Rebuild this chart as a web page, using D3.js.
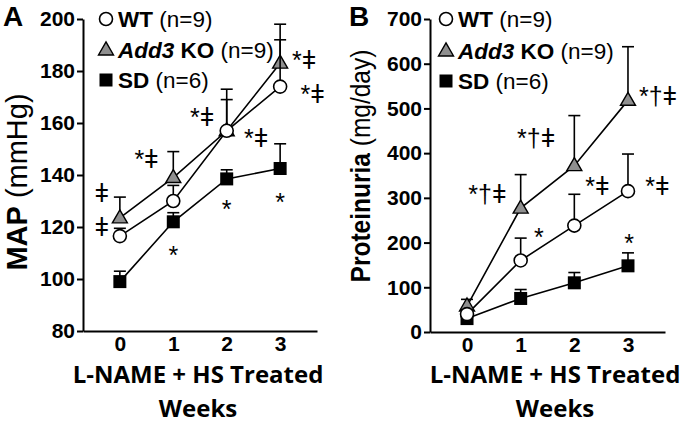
<!DOCTYPE html>
<html><head><meta charset="utf-8">
<script src="https://cdn.jsdelivr.net/npm/d3@7"></script>
<style>body{margin:0;background:#fff}svg{display:block}</style>
</head><body>
<svg id="c" width="690" height="423"></svg>
<script>
// ---- data ----
const weeks = [0, 1, 2, 3];
const series = ["SD", "KO", "WT"];
// Panel A: MAP (mmHg)
const mapWT = [116.5, 130, 157, 174];
const mapWTErr = [119.5, 136, 169, 192];
const mapKO = [123.5, 139, 157, 183];
const mapKOErr = [131.5, 149, 173, 198];
const mapSD = [99, 122, 138.5, 142.5];
const mapSDErr = [103, 125.5, 142, 152];
const mapTicks = [80, 100, 120, 140, 160, 180, 200];
// Panel B: Proteinuria (mg/day)
const proWT = [40, 160, 238, 315];
const proWTErr = [50, 210, 308, 398];
const proKO = [58, 277, 372, 518];
const proKOErr = [73, 352, 484, 638];
const proSD = [30, 75, 110, 148];
const proSDErr = [38, 95, 133, 177];
const proTicks = [0, 100, 200, 300, 400, 500, 600, 700];
// significance annotations: [week, value, text]
const mapNotes = [
  [-0.34, 132.7, "ǂ"], [-0.34, 119.6, "ǂ"],
  [0.5, 145.8, "*ǂ"], [1.54, 162, "*ǂ"], [2.55, 153.8, "*ǂ"],
  [3.45, 183.7, "*ǂ"], [3.61, 170.8, "*ǂ"],
  [1.0, 111, "*"], [2.0, 129, "*"], [3.0, 131.5, "*"]
];
const proNotes = [
  [0.38, 306, "*†ǂ"], [1.29, 432, "*†ǂ"], [3.56, 526, "*†ǂ"],
  [2.43, 325, "*ǂ"], [3.55, 325, "*ǂ"],
  [1.34, 222.6, "*"], [3.02, 211, "*"]
];
const legendNames = {WT: ["WT", "", " (n=9)"], KO: ["Add3", " KO", " (n=9)"], SD: ["SD", "", " (n=6)"]};

const svg = d3.select("#c");
const F = "'Liberation Sans', Arial, sans-serif";

function panel(o) {
  const g = svg.append("g");
  const x = d3.scaleLinear().domain([-0.69, 3.69]).range([o.x0, o.x1]);
  const y = d3.scaleLinear().domain(o.domain).range([o.yb, o.yt]);

  // axes
  const ya = g.append("g").attr("transform", `translate(${o.x0},0)`)
    .call(d3.axisLeft(y).tickValues(o.ticks).tickFormat(d3.format("d")).tickSize(6).tickPadding(2).tickSizeOuter(0));
  const xa = g.append("g").attr("transform", `translate(0,${o.yb})`)
    .call(d3.axisBottom(x).tickValues(weeks).tickFormat(d3.format("d")).tickSize(0).tickPadding(5).tickSizeOuter(0));
  [ya, xa].forEach(a => {
    a.select(".domain").attr("stroke", "#000").attr("stroke-width", 2);
    a.selectAll(".tick line").attr("stroke", "#000").attr("stroke-width", 2);
    a.selectAll(".tick text").attr("fill", "#000").style("font", `bold 21px ${F}`);
  });

  const data = {WT: [o.wt, o.wtE], KO: [o.ko, o.koE], SD: [o.sd, o.sdE]};
  const line = d3.line().x((d, i) => x(weeks[i])).y(d => y(d));
  // lines
  series.forEach(s => {
    g.append("path").attr("d", line(data[s][0])).attr("fill", "none")
      .attr("stroke", "#000").attr("stroke-width", 1.6);
  });
  // error bars and markers
  series.forEach(s => {
    const [v, e] = data[s];
    weeks.forEach((w, i) => {
      g.append("line").attr("x1", x(w)).attr("x2", x(w)).attr("y1", y(v[i])).attr("y2", y(e[i]))
        .attr("stroke", "#000").attr("stroke-width", 1.6);
      g.append("line").attr("x1", x(w) - 6).attr("x2", x(w) + 6).attr("y1", y(e[i])).attr("y2", y(e[i]))
        .attr("stroke", "#000").attr("stroke-width", 1.6);
    });
    weeks.forEach((w, i) => marker(g, s, x(w), y(v[i])));
  });

  // annotations
  o.notes.forEach(([w, v, t]) => {
    const cy = y(v);
    const off = t === "*" ? 14 : 8;
    g.append("text").attr("x", x(w)).attr("y", cy + off).attr("text-anchor", "middle")
      .style("font", `25px ${F}`).attr("fill", "#000").text(t);
  });

  // legend
  series.slice().reverse().forEach((s, i) => {
    const ly = o.legY[i];
    marker(g, s, o.legX, ly);
    const n = legendNames[s];
    const t = g.append("text").attr("x", o.legX + 12).attr("y", ly + 8)
      .style("font-family", F).style("font-size", "22.5px").attr("fill", "#000");
    t.append("tspan").style("font-weight", "bold").style("font-style", s === "KO" ? "italic" : "normal").text(n[0]);
    if (n[1]) t.append("tspan").style("font-weight", "bold").text(n[1]);
    t.append("tspan").text(n[2]);
  });

  // y title
  const yt = g.append("text").attr("transform", `translate(${o.ytX},${o.ytY}) scale(${o.ytStretch},1) rotate(-90)`)
    .attr("text-anchor", "middle").style("font-family", F).style("font-size", o.ytSize + "px").attr("fill", "#000");
  yt.append("tspan").style("font-weight", "bold").text(o.yTitle[0]);
  yt.append("tspan").text(o.yTitle[1]);

  // x title
  const cx = o.xtX;
  g.append("text").attr("x", cx).attr("y", 383).attr("text-anchor", "middle")
    .style("font", "bold 24px 'Open Sans', sans-serif").attr("fill", "#000").text("L-NAME + HS Treated");
  g.append("text").attr("x", cx).attr("y", 417).attr("text-anchor", "middle")
    .style("font", "bold 24px 'Open Sans', sans-serif").attr("fill", "#000").text("Weeks");

  // panel letter
  g.append("text").attr("x", o.letX).attr("y", 26).style("font", `bold 28px ${F}`).attr("fill", "#000").text(o.letter);
}

function marker(g, s, cx, cy) {
  if (s === "WT") {
    g.append("circle").attr("cx", cx).attr("cy", cy).attr("r", 6.5).attr("fill", "#fff")
      .attr("stroke", "#000").attr("stroke-width", 1.6);
  } else if (s === "KO") {
    const h = 13, w = 15;
    g.append("path").attr("d", `M${cx},${cy - h * 0.62}L${cx + w / 2},${cy + h * 0.38}L${cx - w / 2},${cy + h * 0.38}Z`)
      .attr("fill", "#8f8f8f").attr("stroke", "#000").attr("stroke-width", 1.4);
  } else {
    g.append("rect").attr("x", cx - 6.5).attr("y", cy - 6.5).attr("width", 13).attr("height", 13).attr("fill", "#000");
  }
}

panel({x0: 83, x1: 317, yb: 331, yt: 19, domain: [80, 200], ticks: mapTicks,
  wt: mapWT, wtE: mapWTErr, ko: mapKO, koE: mapKOErr, sd: mapSD, sdE: mapSDErr,
  notes: mapNotes, legX: 106, legY: [19, 50, 80], ytX: 26.5, ytY: 182, ytSize: 29, ytStretch: 1, yTitle: ["MAP", " (mmHg)"],
  xtX: 198, letX: 3, letter: "A"});
panel({x0: 430, x1: 665, yb: 332, yt: 19, domain: [0, 700], ticks: proTicks,
  wt: proWT, wtE: proWTErr, ko: proKO, koE: proKOErr, sd: proSD, sdE: proSDErr,
  notes: proNotes, legX: 446, legY: [19, 51, 81], ytX: 370, ytY: 166, ytSize: 24.5, ytStretch: 1.14, yTitle: ["Proteinuria", " (mg/day)"],
  xtX: 555, letX: 349, letter: "B"});
</script>
</body></html>
